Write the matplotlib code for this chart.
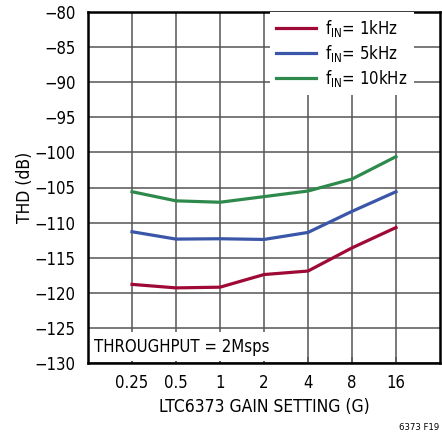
import numpy as np
import matplotlib
matplotlib.use('Agg')
import matplotlib.pyplot as plt

# data
gain_labels = ['0.25', '0.5', '1', '2', '4', '8', '16']
thd_1k = [-118.8, -119.3, -119.2, -117.4, -116.9, -113.6, -110.7]
thd_5k = [-111.3, -112.35, -112.3, -112.4, -111.4, -108.4, -105.6]
thd_10k = [-105.6, -106.9, -107.1, -106.3, -105.5, -103.8, -100.6]
y_ticks = [-80, -85, -90, -95, -100, -105, -110, -115, -120, -125, -130]

# narrow look like the datasheet font
plt.rcParams['font.family'] = ['DejaVu Sans']
plt.rcParams['font.stretch'] = 'condensed'
plt.rcParams['mathtext.fontset'] = 'custom'
plt.rcParams['mathtext.rm'] = 'DejaVu Sans:stretch=condensed'
plt.rcParams['mathtext.it'] = 'DejaVu Sans:stretch=condensed'
plt.rcParams['axes.unicode_minus'] = True

fig = plt.figure(figsize=(4.42, 4.33), dpi=100)
ax = fig.add_axes([88 / 442, 70 / 433, 352 / 442, 351 / 433])

x = np.arange(len(gain_labels))

# grid drawn by hand so the text box can sit over it
for yv in y_ticks:
    ax.axhline(yv, color='#555555', lw=1.1, zorder=1)
for xv in x:
    ax.axvline(xv, color='#555555', lw=1.1, zorder=1)

ax.plot(x, thd_1k, color='#9e0a35', lw=2.3, label=r'f$_{\mathrm{IN}}$= 1kHz', zorder=3)
ax.plot(x, thd_5k, color='#3a56a8', lw=2.3, label=r'f$_{\mathrm{IN}}$= 5kHz', zorder=3)
ax.plot(x, thd_10k, color='#2e8a4c', lw=2.3, label=r'f$_{\mathrm{IN}}$= 10kHz', zorder=3)

ax.set_xlim(-1, 7)
ax.set_ylim(-130, -80)
ax.set_xticks(x)
ax.set_xticklabels(gain_labels)
ax.set_yticks(y_ticks)
ax.tick_params(axis='x', direction='in', length=4, width=1.1, color='#555555',
               labelsize=12, pad=8)
ax.tick_params(axis='y', length=0, labelsize=12, pad=9)

for s in ax.spines.values():
    s.set_linewidth(1.8)
    s.set_color('black')

ax.set_ylabel('THD (dB)', fontsize=12.5, labelpad=0)
ax.set_xlabel('LTC6373 GAIN SETTING (G)', fontsize=12.5, labelpad=4)

ax.text(-1 + 6 / 44, -127.7, 'THROUGHPUT = 2Msps', fontsize=12,
        va='center', ha='left', zorder=2,
        bbox=dict(facecolor='white', edgecolor='none', pad=4))

leg = ax.legend(loc='upper right', bbox_to_anchor=(0.925, 1.0), borderaxespad=0,
                frameon=True, fancybox=False, framealpha=1, edgecolor='none',
                fontsize=12, handlelength=2.4, handletextpad=0.55,
                labelspacing=0.25, borderpad=0.35)
leg.set_zorder(5)

fig.text(439 / 442, 1 - 427 / 433, '6373 F19', fontsize=6.8, ha='right', va='center')

fig.savefig('out.png', dpi=100)
